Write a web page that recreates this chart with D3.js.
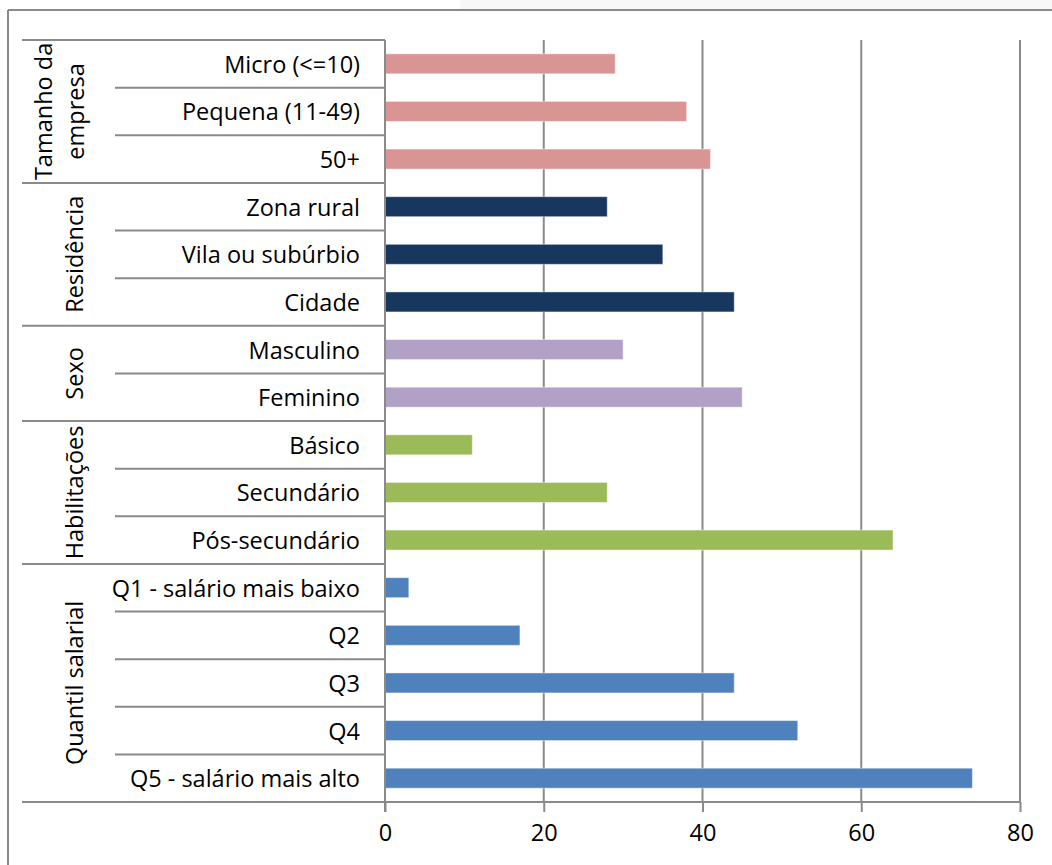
<!DOCTYPE html>
<html><head><meta charset="utf-8">
<script src="https://cdn.jsdelivr.net/npm/d3@7/dist/d3.min.js"></script>
<style>body{margin:0;background:#fff;} text{font-family:"Open Sans",sans-serif;}</style>
</head><body><svg id="c" width="1052" height="865"></svg>
<script>
const groups = ["Tamanho da empresa", "Residência", "Sexo", "Habilitações", "Quantil salarial"];
const groupLines = [["Tamanho da", "empresa"], ["Residência"], ["Sexo"], ["Habilitações"], ["Quantil salarial"]];
const groupColors = ["#d99594", "#17375e", "#b2a1c7", "#9bbb59", "#4f81bd"];
const categories = ["Micro (<=10)", "Pequena (11-49)", "50+", "Zona rural", "Vila ou subúrbio", "Cidade", "Masculino", "Feminino", "Básico", "Secundário", "Pós-secundário", "Q1 - salário mais baixo", "Q2", "Q3", "Q4", "Q5 - salário mais alto"];
const categoryGroup = [0,0,0,1,1,1,2,2,3,3,3,4,4,4,4,4];
const values = [29, 38, 41, 28, 35, 44, 30, 45, 11, 28, 64, 3, 17, 44, 52, 74];
const xTicks = [0, 20, 40, 60, 80];

const svg = d3.select("#c");
const x0 = 385, x1 = 1020, yTop = 40, yBot = 802;
const x = d3.scaleLinear().domain([0, 80]).range([x0, x1]);
const y = d3.scaleBand().domain(categories).range([yTop, yBot]).paddingInner(0.58).paddingOuter(0.29);
const grey = "#8a8a8a";
const fs = 23.5;

// top-right shading & outer frame
svg.append("rect").attr("x", 460).attr("y", 0).attr("width", 592).attr("height", 10).attr("fill", "#f7f7f7");
svg.append("line").attr("x1", 8).attr("x2", 1052).attr("y1", 10).attr("y2", 10).attr("stroke", grey).attr("stroke-width", 2);
svg.append("line").attr("x1", 8).attr("x2", 8).attr("y1", 10).attr("y2", 865).attr("stroke", grey).attr("stroke-width", 2);

// gridlines
svg.append("g").selectAll("line").data(xTicks.slice(1)).join("line")
  .attr("x1", d => x(d)).attr("x2", d => x(d)).attr("y1", yTop).attr("y2", yBot)
  .attr("stroke", grey).attr("stroke-width", 2);

// bars
svg.append("g").selectAll("rect").data(categories).join("rect")
  .attr("x", x(0)).attr("y", d => y(d)).attr("height", y.bandwidth())
  .attr("width", (d, i) => x(values[i]) - x(0))
  .attr("fill", (d, i) => groupColors[categoryGroup[i]])
  .attr("stroke", "rgba(255,255,255,0.45)").attr("stroke-width", 1);

// x axis
const xAxis = d3.axisBottom(x).tickValues(xTicks).tickSize(10).tickPadding(12);
const gx = svg.append("g").attr("transform", `translate(0,${yBot})`).call(xAxis);
gx.select(".domain").attr("stroke", grey).attr("stroke-width", 2).attr("d", `M${x0},0H${x1}`);
gx.selectAll(".tick line").attr("stroke", grey).attr("stroke-width", 2);
gx.selectAll(".tick text").attr("font-size", fs).attr("fill", "#000").attr("font-family", "Open Sans");

// category axis line
svg.append("line").attr("x1", x0).attr("x2", x0).attr("y1", yTop).attr("y2", yBot + 10).attr("stroke", grey).attr("stroke-width", 2);

// separators
const step = y.step();
const bounds = d3.range(categories.length + 1);
svg.append("g").selectAll("line").data(bounds).join("line")
  .attr("x1", i => (i === 0 || i === categories.length || categoryGroup[i] !== categoryGroup[i - 1]) ? 22 : 115)
  .attr("x2", x0)
  .attr("y1", i => yTop + i * step).attr("y2", i => yTop + i * step)
  .attr("stroke", grey).attr("stroke-width", 2);

// category labels
svg.append("g").selectAll("text").data(categories).join("text")
  .attr("x", 360).attr("y", d => y(d) + y.bandwidth() / 2)
  .attr("text-anchor", "end").attr("dominant-baseline", "central")
  .attr("font-size", fs).attr("fill", "#000").text(d => d);

// group labels
groups.forEach((g, gi) => {
  const idx = categoryGroup.map((c, i) => c === gi ? i : -1).filter(i => i >= 0);
  const cy = (y(categories[idx[0]]) + y(categories[idx[idx.length - 1]]) + y.bandwidth()) / 2;
  const lines = groupLines[gi];
  const xs = lines.length === 2 ? [43, 75] : [74];
  lines.forEach((ln, li) => {
    svg.append("text").attr("transform", `translate(${xs[li]},${cy}) rotate(-90)`)
      .attr("text-anchor", "middle").attr("dominant-baseline", "central")
      .attr("font-size", fs).attr("fill", "#000").text(ln);
  });
});
</script></body></html>
